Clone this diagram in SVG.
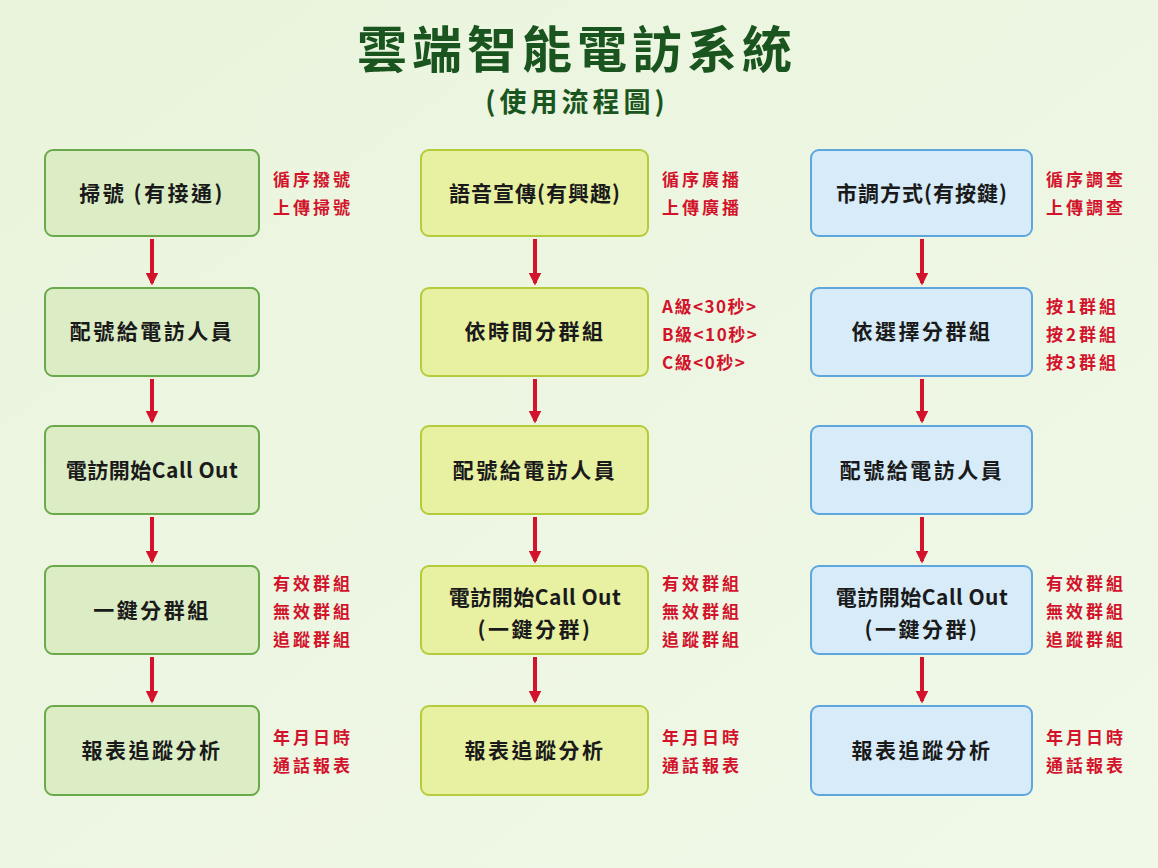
<svg xmlns="http://www.w3.org/2000/svg" width="1158" height="868" viewBox="0 0 1158 868">
<defs>
<linearGradient id="bg" x1="0" y1="0" x2="1" y2="1"><stop offset="0" stop-color="#eaf4dc"/><stop offset="1" stop-color="#f0f8e8"/></linearGradient>
<marker id="ah" viewBox="0 0 10 10" refX="8" refY="5" markerWidth="3.2" markerHeight="3.2" orient="auto"><path d="M0,0 L10,5 L0,10 z" fill="#d2132b"/></marker>
</defs>
<style>
text{font-family:"Noto Sans CJK TC","Noto Sans",sans-serif;}
.b1{fill:#dcedc6;stroke:#6aaa4a;stroke-width:2}
.b2{fill:#e8f0a2;stroke:#b5cc3a;stroke-width:2}
.b3{fill:#d7ecf8;stroke:#5ea6de;stroke-width:2}
.t{font-size:21px;font-weight:bold;fill:#1a1a1a;text-anchor:middle;letter-spacing:2.5px}
.r{font-size:17px;font-weight:bold;fill:#d2132b;letter-spacing:3px}
.c line{stroke:#d2132b;stroke-width:4;marker-end:url(#ah)}
</style>
<rect width="1158" height="868" fill="url(#bg)"/>
<text x="577" y="68" text-anchor="middle" font-size="50" font-weight="bold" fill="#1a5520" style="letter-spacing:5px">雲端智能電訪系統</text>
<text x="577" y="112" text-anchor="middle" font-size="27" font-weight="bold" fill="#1a5520" style="letter-spacing:4px">(使用流程圖)</text>

<g id="n1"><rect class="b1" x="45" y="150" width="214" height="86" rx="8"/><text class="t" x="152" y="201">掃號 (有接通)</text></g>
<g id="n2"><rect class="b1" x="45" y="288" width="214" height="88" rx="8"/><text class="t" x="152" y="339">配號給電訪人員</text></g>
<g id="n3"><rect class="b1" x="45" y="426" width="214" height="88" rx="8"/><text class="t" x="152" y="478" style="letter-spacing:0.5px">電訪開始Call Out</text></g>
<g id="n4"><rect class="b1" x="45" y="566" width="214" height="88" rx="8"/><text class="t" x="152" y="618">一鍵分群組</text></g>
<g id="n5"><rect class="b1" x="45" y="706" width="214" height="89" rx="8"/><text class="t" x="152" y="758">報表追蹤分析</text></g>

<g id="m1"><rect class="b2" x="421" y="150" width="227" height="86" rx="8"/><text class="t" x="535" y="201" style="letter-spacing:1px">語音宣傳(有興趣)</text></g>
<g id="m2"><rect class="b2" x="421" y="288" width="227" height="88" rx="8"/><text class="t" x="535" y="339">依時間分群組</text></g>
<g id="m3"><rect class="b2" x="421" y="426" width="227" height="88" rx="8"/><text class="t" x="535" y="478">配號給電訪人員</text></g>
<g id="m4"><rect class="b2" x="421" y="566" width="227" height="88" rx="8"/><text class="t" x="535" y="605" style="letter-spacing:0.5px">電訪開始Call Out</text><text class="t" x="535" y="637">(一鍵分群)</text></g>
<g id="m5"><rect class="b2" x="421" y="706" width="227" height="89" rx="8"/><text class="t" x="535" y="758">報表追蹤分析</text></g>

<g id="k1"><rect class="b3" x="811" y="150" width="221" height="86" rx="8"/><text class="t" x="922" y="201" style="letter-spacing:1px">市調方式(有按鍵)</text></g>
<g id="k2"><rect class="b3" x="811" y="288" width="221" height="88" rx="8"/><text class="t" x="922" y="339">依選擇分群組</text></g>
<g id="k3"><rect class="b3" x="811" y="426" width="221" height="88" rx="8"/><text class="t" x="922" y="478">配號給電訪人員</text></g>
<g id="k4"><rect class="b3" x="811" y="566" width="221" height="88" rx="8"/><text class="t" x="922" y="605" style="letter-spacing:0.5px">電訪開始Call Out</text><text class="t" x="922" y="637">(一鍵分群)</text></g>
<g id="k5"><rect class="b3" x="811" y="706" width="221" height="89" rx="8"/><text class="t" x="922" y="758">報表追蹤分析</text></g>

<g id="labels">
<text class="r" x="273" y="186">循序撥號</text><text class="r" x="273" y="214">上傳掃號</text>
<text class="r" x="273" y="590">有效群組</text><text class="r" x="273" y="618">無效群組</text><text class="r" x="273" y="646">追蹤群組</text>
<text class="r" x="273" y="744">年月日時</text><text class="r" x="273" y="772">通話報表</text>
<text class="r" x="662" y="186">循序廣播</text><text class="r" x="662" y="214">上傳廣播</text>
<text class="r" x="662" y="313" style="letter-spacing:1.5px">A級&lt;30秒&gt;</text><text class="r" x="662" y="341" style="letter-spacing:1.5px">B級&lt;10秒&gt;</text><text class="r" x="662" y="369" style="letter-spacing:1.5px">C級&lt;0秒&gt;</text>
<text class="r" x="662" y="590">有效群組</text><text class="r" x="662" y="618">無效群組</text><text class="r" x="662" y="646">追蹤群組</text>
<text class="r" x="662" y="744">年月日時</text><text class="r" x="662" y="772">通話報表</text>
<text class="r" x="1046" y="186">循序調查</text><text class="r" x="1046" y="214">上傳調查</text>
<text class="r" x="1046" y="313">按1群組</text><text class="r" x="1046" y="341">按2群組</text><text class="r" x="1046" y="369">按3群組</text>
<text class="r" x="1046" y="590">有效群組</text><text class="r" x="1046" y="618">無效群組</text><text class="r" x="1046" y="646">追蹤群組</text>
<text class="r" x="1046" y="744">年月日時</text><text class="r" x="1046" y="772">通話報表</text>
</g>

<g class="c" id="connectors">
<line x1="152" y1="239" x2="152" y2="283"/><line x1="152" y1="379" x2="152" y2="421"/><line x1="152" y1="517" x2="152" y2="561"/><line x1="152" y1="657" x2="152" y2="701"/>
<line x1="535" y1="239" x2="535" y2="283"/><line x1="535" y1="379" x2="535" y2="421"/><line x1="535" y1="517" x2="535" y2="561"/><line x1="535" y1="657" x2="535" y2="701"/>
<line x1="922" y1="239" x2="922" y2="283"/><line x1="922" y1="379" x2="922" y2="421"/><line x1="922" y1="517" x2="922" y2="561"/><line x1="922" y1="657" x2="922" y2="701"/>
</g>
</svg>
